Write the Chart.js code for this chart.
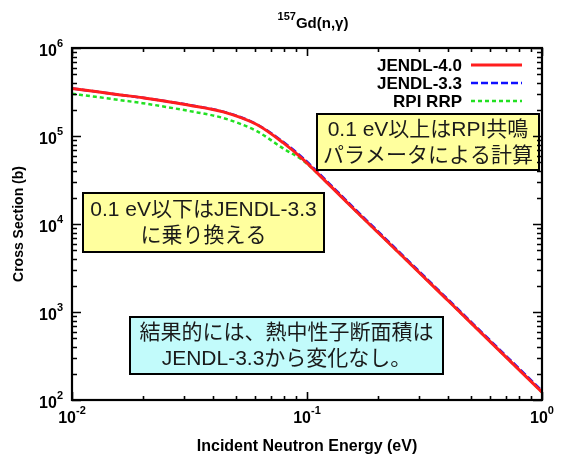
<!DOCTYPE html>
<html>
<head>
<meta charset="utf-8">
<script src="https://cdn.jsdelivr.net/npm/chart.js@4/dist/chart.umd.min.js"></script>
<style>
  html, body { margin: 0; padding: 0; background: #fff; }
</style>
</head>
<body>
<canvas id="xs" width="561" height="457"></canvas>
<script>
// 157Gd(n,g) capture cross section [b] vs incident energy [eV]
const energy  = [0.01, 0.0126, 0.0158, 0.02, 0.0251, 0.0316, 0.044, 0.0611, 0.0791, 0.0962, 0.126, 0.158, 0.251, 0.398, 0.631, 1.0];
const jendl40 = [3.47e5, 3.20e5, 2.95e5, 2.72e5, 2.48e5, 2.24e5, 1.88e5, 1.35e5, 8.4e4, 5.43e4, 2.69e4, 1.48e4, 4470, 1350, 407, 123];
const jendl33 = [3.47e5, 3.20e5, 2.95e5, 2.72e5, 2.48e5, 2.25e5, 1.89e5, 1.36e5, 8.6e4, 5.6e4, 2.78e4, 1.53e4, 4610, 1390, 420, 127];
const rpiRRP  = [3.02e5, 2.79e5, 2.57e5, 2.36e5, 2.14e5, 1.92e5, 1.60e5, 1.135e5, 7.24e4, 5.25e4, 2.69e4, 1.48e4, 4470, 1350, 407, 123];
const seriesNames = ['JENDL-4.0', 'JENDL-3.3', 'RPI RRP'];

const xTicks = [0.01, 0.1, 1];
const yTicks = [1e2, 1e3, 1e4, 1e5, 1e6];

const titleIso = '157';
const titleRest = 'Gd(n,γ)';
const xTitle = 'Incident Neutron Energy (eV)';
const yTitle = 'Cross Section (b)';

const noteAbove = ['0.1 eV以上はRPI共鳴', 'パラメータによる計算'];
const noteBelow = ['0.1 eV以下はJENDL-3.3', 'に乗り換える'];
const noteResult = ['結果的には、熱中性子断面積は', 'JENDL-3.3から変化なし。'];

// note boxes, offsets from the plot's top-left corner
const notes = [
  { lines: noteAbove,  x: 245, y: 66,  w: 222, h: 56, fill: '#ffff9e' },
  { lines: noteBelow,  x: 11,  y: 145, w: 241, h: 59, fill: '#ffff9e' },
  { lines: noteResult, x: 58,  y: 269, w: 313, h: 57, fill: '#c2fbfb' }
];

const pts = vals => energy.map((e, i) => ({ x: e, y: vals[i] }));

const BOLD = '"Liberation Sans", Arial, sans-serif';
const NOTE_FONT = '21px "Liberation Sans", "Noto Sans CJK JP", sans-serif';

// major ticks at decades, minor ones at 2..9 in between
function logTicks(ticks) {
  const out = [];
  for (let i = 0; i < ticks.length; i++) {
    out.push({ v: ticks[i], major: true });
    if (i < ticks.length - 1) {
      for (let k = 2; k <= 9; k++) out.push({ v: ticks[i] * k, major: false });
    }
  }
  return out;
}

const framePlugin = {
  id: 'frameTicks',
  afterDatasetsDraw(chart) {
    const { ctx, chartArea: a, scales: { x, y } } = chart;
    ctx.save();

    // annotation boxes
    notes.forEach(n => {
      const bx = a.left + n.x, by = a.top + n.y;
      ctx.fillStyle = n.fill;
      ctx.fillRect(bx, by, n.w, n.h);
      ctx.strokeStyle = '#000';
      ctx.lineWidth = 2;
      ctx.strokeRect(bx, by, n.w, n.h);
      ctx.fillStyle = '#1a1a1a';
      ctx.font = NOTE_FONT;
      ctx.textAlign = 'center';
      ctx.textBaseline = 'middle';
      const gap = 26;
      const cy = by + n.h / 2 - gap * (n.lines.length - 1) / 2;
      n.lines.forEach((t, i) => ctx.fillText(t, bx + n.w / 2, cy + i * gap + 1));
    });

    // inside ticks on all four sides
    ctx.strokeStyle = '#000';
    ctx.lineWidth = 1.6;
    ctx.beginPath();
    logTicks(xTicks).forEach(t => {
      const px = Math.round(x.getPixelForValue(t.v)) + 0.5;
      const len = t.major ? 8 : 4;
      ctx.moveTo(px, a.bottom); ctx.lineTo(px, a.bottom - len);
      ctx.moveTo(px, a.top); ctx.lineTo(px, a.top + len);
    });
    logTicks(yTicks).forEach(t => {
      const py = Math.round(y.getPixelForValue(t.v)) + 0.5;
      const len = t.major ? 9 : 5;
      ctx.moveTo(a.left, py); ctx.lineTo(a.left + len, py);
      ctx.moveTo(a.right, py); ctx.lineTo(a.right - len, py);
    });
    ctx.stroke();

    ctx.lineWidth = 2.2;
    ctx.strokeRect(a.left, a.top, a.right - a.left, a.bottom - a.top);

    // tick labels as 10^n
    ctx.fillStyle = '#000';
    ctx.textBaseline = 'alphabetic';
    const base = 'bold 16px ' + BOLD;
    const sup = 'bold 11px ' + BOLD;
    xTicks.forEach(v => {
      const e = String(Math.round(Math.log10(v)));
      ctx.font = base; const w1 = ctx.measureText('10').width;
      ctx.font = sup;  const w2 = ctx.measureText(e).width;
      const px = x.getPixelForValue(v);
      const left = px - (w1 + w2) / 2;
      ctx.textAlign = 'left';
      ctx.font = base; ctx.fillText('10', left, a.bottom + 23);
      ctx.font = sup;  ctx.fillText(e, left + w1, a.bottom + 14);
    });
    yTicks.forEach(v => {
      const e = String(Math.round(Math.log10(v)));
      const py = y.getPixelForValue(v);
      ctx.font = sup; const w2 = ctx.measureText(e).width;
      ctx.textAlign = 'right';
      ctx.font = base; ctx.fillText('10', a.left - 9 - w2, py + 8);
      ctx.textAlign = 'left';
      ctx.font = sup;  ctx.fillText(e, a.left - 9 - w2, py - 1);
    });

    // axis titles
    ctx.font = 'bold 16px ' + BOLD;
    ctx.textAlign = 'center';
    ctx.fillText(xTitle, (a.left + a.right) / 2, a.bottom + 51);
    ctx.save();
    ctx.translate(23, (a.top + a.bottom) / 2);
    ctx.rotate(-Math.PI / 2);
    ctx.font = 'bold 14px ' + BOLD;
    ctx.fillText(yTitle, 0, 0);
    ctx.restore();

    // title with mass number as superscript
    ctx.textAlign = 'left';
    ctx.font = 'bold 11px ' + BOLD; const wi = ctx.measureText(titleIso).width;
    ctx.font = 'bold 15px ' + BOLD; const wr = ctx.measureText(titleRest).width;
    const tl = (a.left + a.right) / 2 - (wi + wr) / 2 + 6;
    ctx.font = 'bold 11px ' + BOLD; ctx.fillText(titleIso, tl, 20);
    ctx.font = 'bold 15px ' + BOLD; ctx.fillText(titleRest, tl + wi, 28);

    // key: right-aligned names with line samples
    chart.data.datasets.forEach((ds, i) => {
      const ly = a.top + 17 + i * 18;
      ctx.font = 'bold 17px ' + BOLD;
      ctx.textAlign = 'right';
      ctx.textBaseline = 'middle';
      ctx.fillStyle = '#000';
      ctx.fillText(ds.label, a.right - 80, ly + 1);
      ctx.strokeStyle = ds.borderColor;
      ctx.lineWidth = ds.borderWidth;
      ctx.setLineDash(ds.borderDash || []);
      ctx.beginPath();
      ctx.moveTo(a.right - 71, ly); ctx.lineTo(a.right - 20, ly);
      ctx.stroke();
      ctx.setLineDash([]);
    });

    ctx.restore();
  }
};

new Chart(document.getElementById('xs'), {
  type: 'line',
  data: {
    datasets: [
      { label: seriesNames[0], data: pts(jendl40), borderColor: '#ff1e1e', borderWidth: 3 },
      { label: seriesNames[1], data: pts(jendl33), borderColor: '#1010ff', borderWidth: 2.5, borderDash: [7, 3] },
      { label: seriesNames[2], data: pts(rpiRRP),  borderColor: '#22e022', borderWidth: 2.5, borderDash: [4, 3] }
    ]
  },
  options: {
    responsive: false,
    animation: false,
    parsing: false,
    layout: { padding: { left: 72, right: 19, top: 48, bottom: 57 } },
    elements: {
      point: { radius: 0 },
      line: { cubicInterpolationMode: 'monotone' }
    },
    plugins: { legend: { display: false }, tooltip: { enabled: false } },
    scales: {
      x: { type: 'logarithmic', min: 0.01, max: 1, display: false },
      y: { type: 'logarithmic', min: 100, max: 1e6, display: false }
    }
  },
  plugins: [framePlugin]
});
</script>
</body>
</html>
